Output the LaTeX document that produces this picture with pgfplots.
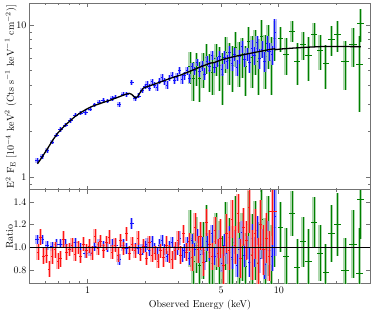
\documentclass[border=0pt]{standalone}
\usepackage{pgfplots}
\usepackage{pgfplotstable}
\pgfplotsset{compat=1.18}
\definecolor{dgreen}{rgb}{0,0.5,0}
\definecolor{mblue}{rgb}{0.08,0.08,1}
\definecolor{mred}{rgb}{1,0.08,0.08}
\definecolor{framecol}{rgb}{0.45,0.45,0.45}

\pgfplotstableread{
E dE F dF r dr
0.545 0.014 1.29 0.05 1.07 0.04
0.579 0.015 1.36 0.05 1.07 0.04
0.615 0.016 1.49 0.05 1.02 0.04
0.653 0.017 1.70 0.06 1.01 0.04
0.688 0.017 1.89 0.06 1.03 0.04
0.722 0.018 2.05 0.07 1.03 0.04
0.767 0.019 2.20 0.07 1.03 0.04
0.815 0.020 2.36 0.08 1.00 0.04
0.865 0.022 2.55 0.08 1.04 0.04
0.919 0.023 2.63 0.08 1.00 0.04
0.976 0.024 2.65 0.09 0.95 0.04
1.03 0.026 2.80 0.09 0.96 0.04
1.09 0.027 2.99 0.10 1.01 0.04
1.15 0.029 3.12 0.10 1.03 0.04
1.21 0.030 3.18 0.11 1.02 0.04
1.27 0.032 3.16 0.11 1.00 0.04
1.34 0.033 3.29 0.11 1.02 0.05
1.40 0.035 3.36 0.12 1.02 0.05
1.46 0.036 3.00 0.12 0.89 0.05
1.53 0.038 3.52 0.12 1.02 0.05
1.60 0.040 3.50 0.13 0.99 0.05
1.70 0.042 4.20 0.15 1.21 0.05
1.77 0.044 3.30 0.13 0.99 0.05
1.85 0.046 3.42 0.13 0.99 0.05
1.93 0.048 3.70 0.14 0.98 0.05
2.01 0.050 3.95 0.15 1.01 0.05
2.050 0.031 4.05 0.20 1.03 0.05
2.113 0.032 3.86 0.20 0.97 0.05
2.177 0.033 4.23 0.20 1.05 0.05
2.244 0.034 4.04 0.20 0.99 0.05
2.312 0.035 3.89 0.21 0.94 0.05
2.383 0.036 4.28 0.21 1.02 0.05
2.456 0.037 4.52 0.21 1.06 0.05
2.531 0.038 4.24 0.22 0.98 0.05
2.609 0.039 4.04 0.22 0.92 0.05
2.688 0.040 4.49 0.22 1.01 0.05
2.771 0.042 4.68 0.23 1.04 0.05
2.855 0.043 4.33 0.27 0.95 0.06
2.943 0.044 4.56 0.28 0.99 0.06
3.033 0.045 5.04 0.28 1.08 0.06
3.125 0.047 4.40 0.28 0.93 0.06
3.221 0.048 4.65 0.29 0.97 0.06
3.320 0.050 5.01 0.29 1.03 0.06
3.421 0.051 4.46 0.30 0.90 0.06
3.526 0.053 5.32 0.30 1.06 0.06
3.634 0.055 5.00 0.31 0.98 0.06
3.745 0.056 5.70 0.31 1.10 0.06
3.859 0.058 4.94 0.42 0.94 0.08
3.977 0.060 5.40 0.43 1.01 0.08
4.099 0.061 4.77 0.43 0.88 0.08
4.224 0.063 5.78 0.44 1.05 0.08
4.353 0.065 5.36 0.45 0.96 0.08
4.487 0.067 6.34 0.45 1.12 0.08
4.624 0.069 5.27 0.46 0.92 0.08
4.765 0.071 5.73 0.46 0.99 0.08
4.911 0.074 6.26 0.47 1.07 0.08
5.061 0.076 5.09 0.47 0.86 0.08
5.216 0.078 6.10 0.60 1.02 0.10
5.376 0.081 5.73 0.60 0.95 0.10
5.540 0.083 6.65 0.61 1.09 0.10
5.710 0.086 5.60 0.62 0.91 0.10
5.884 0.088 6.45 0.62 1.04 0.10
6.064 0.091 5.25 0.63 0.84 0.10
6.250 0.094 6.18 0.63 0.98 0.10
6.441 0.097 7.19 0.64 1.13 0.10
6.638 0.100 5.95 0.64 0.93 0.10
6.841 0.103 6.45 0.65 1.00 0.10
7.050 0.106 5.66 0.85 0.87 0.13
7.266 0.109 7.07 0.85 1.08 0.13
7.488 0.112 6.34 0.86 0.96 0.13
7.717 0.116 7.65 0.86 1.15 0.13
7.953 0.119 6.03 0.87 0.90 0.13
8.196 0.123 6.95 0.88 1.03 0.13
8.447 0.127 5.78 0.88 0.85 0.13
8.705 0.131 7.54 0.89 1.10 0.13
8.971 0.135 6.69 0.90 0.97 0.13
9.246 0.139 6.38 0.90 0.92 0.13
9.530 0.143 8.92 2.00 1.27 0.35
}\bluedata

\pgfplotstableread{
E dE F dF r dr
3.432 0.069 5.36 1.24 1.08 0.25
3.569 0.071 4.45 1.27 0.88 0.25
3.712 0.074 5.26 1.29 1.02 0.25
3.861 0.077 4.43 1.32 0.84 0.25
4.015 0.080 5.20 1.34 0.97 0.25
4.176 0.084 6.12 1.37 1.12 0.25
4.343 0.087 5.02 1.40 0.90 0.25
4.516 0.090 4.88 1.42 0.86 0.25
4.697 0.094 6.05 1.44 1.05 0.25
4.885 0.098 5.43 1.75 0.93 0.30
5.080 0.102 4.74 1.78 0.80 0.30
5.283 0.106 6.60 1.80 1.10 0.30
5.495 0.110 5.84 1.82 0.96 0.30
5.715 0.114 5.47 1.85 0.89 0.30
5.943 0.119 7.15 1.87 1.15 0.30
6.181 0.124 5.79 1.89 0.92 0.30
6.428 0.129 6.36 1.91 1.00 0.30
6.685 0.134 5.32 1.92 0.83 0.30
6.953 0.139 7.76 1.94 1.20 0.30
7.231 0.145 6.15 2.29 0.94 0.35
7.520 0.150 7.01 2.31 1.06 0.35
7.821 0.156 5.80 2.33 0.87 0.35
8.134 0.163 8.43 2.36 1.25 0.35
8.459 0.169 6.19 2.38 0.91 0.35
8.797 0.176 7.55 2.40 1.10 0.35
9.149 0.183 5.89 2.43 0.85 0.35
9.515 0.190 8.22 2.44 1.18 0.35
10.2 0.35 8.20 1.53 1.18 0.22
10.9 0.40 6.44 1.75 0.92 0.25
11.7 0.45 9.15 1.41 1.30 0.20
12.5 0.45 5.81 1.77 0.82 0.25
13.4 0.50 7.47 1.56 1.05 0.22
14.3 0.55 6.28 2.00 0.88 0.28
15.3 0.60 8.75 1.58 1.22 0.22
16.4 0.60 6.84 1.80 0.95 0.25
17.6 0.65 5.62 1.80 0.78 0.25
18.9 0.70 8.09 1.81 1.12 0.25
20.3 0.75 8.66 2.02 1.20 0.28
22.2 1.00 5.78 2.02 0.80 0.28
24.5 1.10 7.43 2.16 1.03 0.30
26.8 1.00 10.22 2.52 1.42 0.35
26.5 1.10 5.54 2.88 0.77 0.40
}\greendata

\pgfplotstableread{
E dE r dr
0.550 0.008 0.96 0.07
0.569 0.009 1.09 0.07
0.589 0.009 0.92 0.07
0.610 0.009 0.93 0.07
0.631 0.009 0.81 0.07
0.653 0.010 0.92 0.07
0.676 0.010 0.98 0.07
0.700 0.011 0.88 0.07
0.724 0.011 0.90 0.07
0.750 0.011 1.07 0.07
0.776 0.012 0.96 0.07
0.803 0.012 0.98 0.06
0.831 0.012 1.02 0.06
0.860 0.013 0.94 0.06
0.890 0.013 1.00 0.06
0.921 0.014 0.92 0.06
0.953 0.014 1.03 0.06
0.987 0.015 0.97 0.06
1.021 0.015 1.01 0.06
1.057 0.016 0.95 0.06
1.094 0.016 1.10 0.06
1.132 0.017 0.99 0.06
1.172 0.018 1.05 0.06
1.213 0.018 0.97 0.06
1.255 0.019 1.04 0.06
1.299 0.019 1.09 0.06
1.345 0.020 0.96 0.06
1.392 0.021 1.02 0.06
1.440 0.022 0.93 0.06
1.491 0.022 1.06 0.06
1.543 0.023 0.99 0.06
1.597 0.024 1.12 0.06
1.653 0.025 0.95 0.06
1.711 0.026 1.03 0.06
1.770 0.027 0.97 0.06
1.832 0.027 1.08 0.06
1.896 0.028 0.94 0.06
1.963 0.029 1.01 0.06
2.031 0.030 0.90 0.06
2.102 0.032 1.04 0.06
2.176 0.033 0.93 0.06
2.252 0.034 0.95 0.06
2.331 0.035 0.88 0.06
2.412 0.036 0.97 0.06
2.497 0.037 0.91 0.08
2.584 0.039 1.02 0.08
2.675 0.040 0.94 0.08
2.768 0.042 0.89 0.08
2.865 0.043 0.97 0.08
2.966 0.044 1.06 0.08
3.069 0.046 0.93 0.08
3.177 0.048 1.12 0.08
3.288 0.049 0.96 0.08
3.403 0.051 1.05 0.08
3.522 0.053 0.91 0.12
3.645 0.055 1.18 0.12
3.773 0.057 0.98 0.12
3.905 0.059 1.10 0.12
4.042 0.061 0.87 0.12
4.183 0.063 1.22 0.12
4.330 0.065 1.03 0.12
4.481 0.067 0.92 0.12
4.638 0.070 1.15 0.12
4.800 0.072 0.95 0.12
4.968 0.075 1.08 0.17
5.142 0.077 0.84 0.17
5.322 0.080 1.12 0.17
5.508 0.083 0.97 0.17
5.701 0.086 1.25 0.17
5.900 0.089 1.02 0.17
6.107 0.092 1.30 0.17
6.320 0.095 0.90 0.17
6.542 0.098 1.18 0.17
6.771 0.102 1.06 0.17
7.008 0.105 1.35 0.22
7.253 0.109 0.93 0.22
7.507 0.113 1.12 0.22
7.769 0.117 0.86 0.22
8.041 0.121 1.20 0.22
8.323 0.125 0.98 0.22
8.614 0.129 1.08 0.22
8.916 0.134 0.92 0.22
9.300 0.450 1.32 0.30
}\reddata

\pgfplotsset{
  panel/.style={
    scale only axis, width=340pt,
    xmin=0.5, xmax=30,
    xtick={1,5,10},
    minor xtick={0.6,0.7,0.8,0.9,2,3,4,6,7,8,9,20,30},
    axis line style={framecol, line width=1pt},
    major tick style={framecol, line width=0.6pt},
    minor tick style={framecol, line width=0.6pt},
    major tick length=4pt, minor tick length=2pt,
    tick align=inside,
  },
  light/.style={draw=none, no markers, forget plot,
    error bars/y dir=both, error bars/y explicit, error bars/error mark=none,
    error bars/error bar style={line width=3.5pt, draw=#1!45!white, opacity=0.7}},
  dark/.style={draw=none, no markers, forget plot,
    error bars/x dir=both, error bars/x explicit,
    error bars/y dir=both, error bars/y explicit, error bars/error mark=none,
    error bars/error bar style={line width=0.6pt, draw=#1}},
}

\begin{document}
\begin{tikzpicture}
\useasboundingbox (-30pt,-27pt) rectangle (344pt,283pt);
% ratio panel
\begin{semilogxaxis}[panel, at={(0pt,0pt)}, anchor=south west, height=93pt,
  ymin=0.685, ymax=1.506,
  ytick={0.8,1.0,1.2,1.4}, yticklabels={0.8,1.0,1.2,1.4},
  xticklabels={1,5,10},
  xlabel={Observed Energy (keV)},
  ylabel={Ratio},
  ylabel style={at={(axis description cs:-0.081,0.5)}, anchor=north},
]
\addplot[light=dgreen] table[x=E, y=r, y error=dr]{\greendata};
\addplot[dark=dgreen] table[x=E, y=r, x error=dE, y error=dr]{\greendata};
\addplot[light=mblue] table[x=E, y=r, y error=dr]{\bluedata};
\addplot[dark=mblue] table[x=E, y=r, x error=dE, y error=dr]{\bluedata};
\addplot[light=mred] table[x=E, y=r, y error=dr]{\reddata};
\addplot[dark=mred] table[x=E, y=r, x error=dE, y error=dr]{\reddata};
\addplot[black, line width=1.2pt] coordinates {(0.5,1) (30,1)};
\end{semilogxaxis}
% spectrum panel
\begin{loglogaxis}[panel, at={(0pt,93pt)}, anchor=south west, height=186.5pt,
  ymin=0.821, ymax=13.85,
  ytick={1,10}, yticklabels={1,10},
  minor ytick={0.9,2,3,4,5,6,7,8,9},
  xticklabels={},
  ylabel={E$^2$ F$_\mathrm{E}$ $[10^{-4}\ \mathrm{keV}^2\ (\mathrm{Cts\ s}^{-1}\ \mathrm{keV}^{-1}\ \mathrm{cm}^{-2})]$},
  ylabel style={at={(axis description cs:-0.084,0.5)}, anchor=north},
]
\addplot[light=dgreen] table[x=E, y=F, y error=dF]{\greendata};
\addplot[dark=dgreen] table[x=E, y=F, x error=dE, y error=dF]{\greendata};
\addplot[light=mblue] table[x=E, y=F, y error=dF]{\bluedata};
\addplot[dark=mblue] table[x=E, y=F, x error=dE, y error=dF]{\bluedata};
\addplot[black, line width=1.3pt] coordinates {
(0.547,1.22) (0.58,1.36) (0.62,1.55) (0.66,1.76) (0.70,1.95) (0.75,2.14)
(0.80,2.31) (0.86,2.50) (0.92,2.65) (0.98,2.78) (1.04,2.89) (1.10,2.97)
(1.17,3.05) (1.24,3.13) (1.32,3.21) (1.40,3.30) (1.49,3.40) (1.58,3.50)
(1.65,3.55) (1.70,3.50) (1.74,3.40) (1.78,3.31) (1.83,3.38) (1.89,3.62)
(1.96,3.85) (2.05,3.93) (2.2,4.05) (2.41,4.22) (2.7,4.45) (3.07,4.69)
(3.46,4.98) (3.9,5.30) (4.4,5.62) (4.6,5.66) (4.97,5.88) (5.6,6.12)
(6.3,6.33) (7.14,6.52) (8.05,6.72) (9.08,6.92) (9.5,6.97) (9.6,6.88)
(10.24,6.95) (11.56,7.03) (13.04,7.10) (14.71,7.16) (16.6,7.21)
(20,7.22) (26.9,7.20)};
\end{loglogaxis}
\end{tikzpicture}
\end{document}
